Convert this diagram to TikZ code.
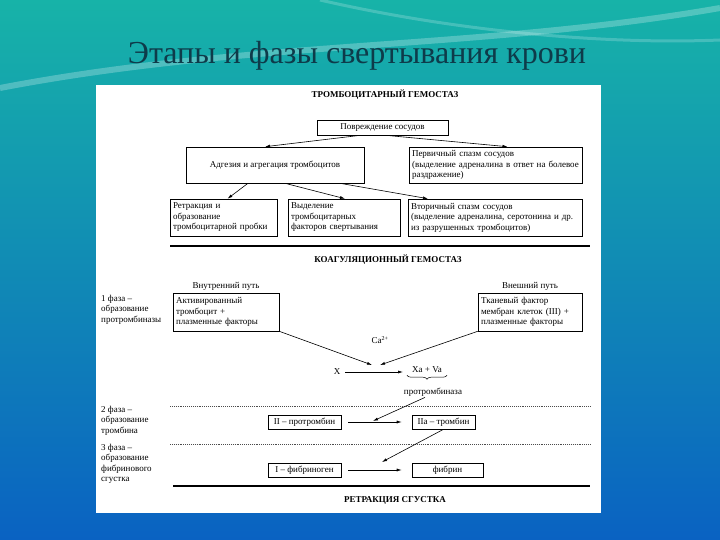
\documentclass[tikz,border=0pt]{standalone}
\usepackage{fontspec}
\setmainfont{Liberation Serif}
\usepackage{xcolor}
\definecolor{slidetop}{HTML}{17B3A8}
\definecolor{slidemid}{HTML}{19A8CC}
\definecolor{slidebot}{HTML}{0A62C2}
\definecolor{titleteal}{HTML}{0E3B4A}
\usepackage{tikz}
\usetikzlibrary{arrows.meta, positioning, decorations.pathreplacing}

\begin{document}
\begin{tikzpicture}[x=1pt, y=-1pt,
    box/.style={rectangle, draw=black, line width=0.6pt, inner sep=3pt, font=\fontsize{9}{10.5}\selectfont},
    lbox/.style={box, align=left, text width=#1},
    lbl/.style={inner sep=1pt, font=\fontsize{9}{10.5}\selectfont},
    hdr/.style={inner sep=1pt, font=\fontsize{9}{11}\selectfont\bfseries},
    arr/.style={-{Latex[length=5pt, width=3pt]}, line width=0.6pt},
    rule/.style={line width=2pt},
    dotsep/.style={densely dotted, line width=0.9pt, black!70},
]
    \useasboundingbox (0,0) rectangle (720,540);
    \shade[top color=slidetop, middle color=slidemid, bottom color=slidebot] (0,0) rectangle (720,540);
    \draw[white, opacity=0.25, line width=6pt] (0,88) .. controls (250,40) and (480,50) .. (720,8);
    \draw[white, opacity=0.2, line width=3pt] (320,0) .. controls (450,30) and (600,45) .. (720,40);
    \fill[white] (96,85) rectangle (601,513);

    \node[font=\fontsize{32}{36}\selectfont, text=titleteal] (title) at (357,56) {Этапы и фазы свертывания крови};

    \node[hdr] (tgem) at (385,95) {ТРОМБОЦИТАРНЫЙ ГЕМОСТАЗ};
    \node[box, minimum width=131, minimum height=15] (povr) at (382.5,127.5) {Повреждение сосудов};
    \node[box, minimum width=178, minimum height=36] (adg) at (275,165) {Адгезия и агрегация тромбоцитов};
    \node[lbox=167, minimum height=36] (perv) at (495.5,165) {Первичный спазм сосудов\\(выделение адреналина в ответ на болевое\\раздражение)};
    \node[lbox=101, minimum height=37] (retr) at (223.5,217.5) {Ретракция и\\образование\\тромбоцитарной пробки};
    \node[lbox=106, minimum height=37] (vyd) at (344,217.5) {Выделение\\тромбоцитарных\\факторов свертывания};
    \node[lbox=168, minimum height=37] (vtor) at (495,217.5) {Вторичный спазм сосудов\\(выделение адреналина, серотонина и др.\\из разрушенных тромбоцитов)};

    \draw[arr] ([xshift=-22]povr.south) -- ([xshift=-10]adg.north);
    \draw[arr] ([xshift=3]povr.south) -- ([xshift=12]perv.north);
    \draw[arr] ([xshift=-27]adg.south) -- ([xshift=4]retr.north);
    \draw[arr] ([xshift=10]adg.south) -- ([xshift=1]vyd.north);
    \draw[arr] ([xshift=65]adg.south) -- ([xshift=-67]vtor.north);

    \draw[rule] (170,246) -- (590,246);
    \node[hdr] (kgem) at (388,260) {КОАГУЛЯЦИОННЫЙ ГЕМОСТАЗ};

    \node[lbox=100, minimum height=38] (akt) at (226,312) {Активированный\\тромбоцит +\\плазменные факторы};
    \node[lbox=98, minimum height=38] (tkan) at (530,312) {Тканевый фактор\\мембран клеток (III) +\\плазменные факторы};
    \node[lbl, above=1pt of akt] (vnutr) {Внутренний путь};
    \node[lbl, above=1pt of tkan] (vnesh) {Внешний путь};
    \node[lbl, align=left, anchor=north west] (ph1) at (100,294) {1 фаза –\\образование\\протромбиназы};

    \coordinate (meet) at (376,365);
    \node[lbl] (ca) at (380,340) {Ca\textsuperscript{2+}};
    \draw[arr] (akt.south east) -- ([xshift=-4]meet);
    \draw[arr] (tkan.south west) -- ([xshift=4]meet);

    \node[lbl] (x) at (337,372) {X};
    \node[lbl] (xava) at (427,370) {Xa + Va};
    \draw[arr, shorten <=4pt, shorten >=8pt] (x.east) -- (x.east -| xava.west);
    \draw[decorate, decoration={brace, mirror, amplitude=4pt}, line width=0.5pt] ([xshift=-4,yshift=-1]xava.south west) -- ([xshift=4,yshift=-1]xava.south east);
    \node[lbl] (ptb) at (433,392) {протромбиназа};

    \draw[dotsep] (170,406) -- (590,406);
    \node[lbl, align=left, anchor=north west] (ph2) at (100,405) {2 фаза –\\образование\\тромбина};
    \node[box, minimum width=73, minimum height=14, inner sep=1pt] (ii) at (304.5,422) {II – протромбин};
    \node[box, minimum width=63, minimum height=14, inner sep=1pt] (iia) at (443.5,422) {IIa – тромбин};
    \coordinate (hitii) at (373,421);
    \draw[arr, shorten <=7pt, shorten >=10pt] (ii.east) -- (iia.west);
    \draw[arr] ([xshift=-8]ptb.south) -- (hitii);

    \draw[dotsep] (170,444) -- (590,444);
    \node[lbl, align=left, anchor=north west] (ph3) at (100,443) {3 фаза –\\образование\\фибринового\\сгустка};
    \node[box, minimum width=73, minimum height=14, inner sep=1pt] (i) at (304.5,470) {I – фибриноген};
    \node[box, minimum width=71, minimum height=14, inner sep=1pt] (fib) at (447.5,470) {фибрин};
    \coordinate (hiti) at (382,462);
    \draw[arr, shorten <=7pt, shorten >=10pt] (i.east) -- (fib.west);
    \draw[arr] (iia.south) -- (hiti);

    \draw[rule] (173,486) -- (590,486);
    \node[hdr] (retrs) at (395,500) {РЕТРАКЦИЯ СГУСТКА};
\end{tikzpicture}
\end{document}
